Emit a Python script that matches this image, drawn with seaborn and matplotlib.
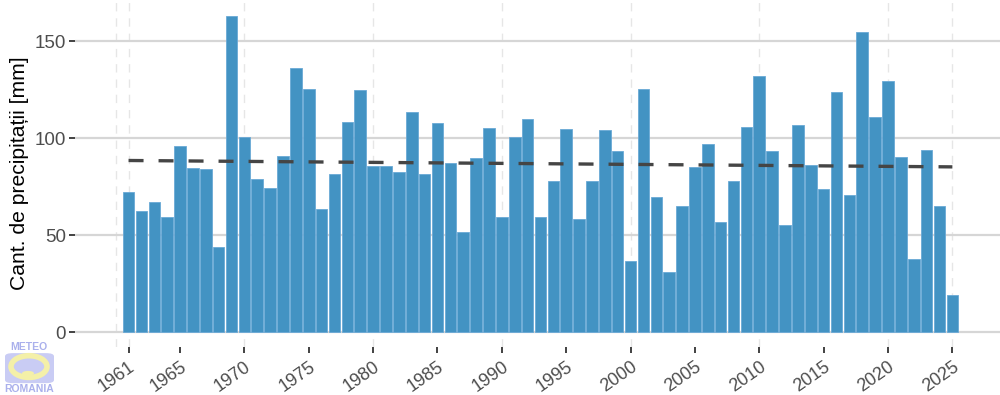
import numpy as np
import pandas as pd
import matplotlib
matplotlib.use("Agg")
import matplotlib.pyplot as plt
import matplotlib.transforms as mtransforms
import seaborn as sns
from matplotlib.patches import FancyBboxPatch, Ellipse, Circle

years = list(range(1961, 2026))
precip = [72.3, 62.7, 67.3, 59.4, 96.1, 84.6, 84.2, 43.9, 163.1, 100.6,
          79.0, 74.1, 90.9, 136.4, 125.4, 63.7, 81.6, 108.3, 124.8, 85.6,
          85.6, 82.6, 113.5, 81.6, 107.6, 87.0, 51.7, 89.7, 105.2, 59.2,
          100.4, 110.0, 59.2, 77.7, 104.7, 58.4, 78.0, 104.3, 93.2, 36.7,
          125.2, 69.7, 30.8, 64.8, 85.4, 96.8, 57.0, 78.0, 105.9, 131.9,
          93.5, 55.1, 106.8, 86.3, 73.6, 123.8, 70.6, 154.8, 111.1, 129.3,
          90.1, 37.9, 93.7, 64.8, 19.0]
xtick_years = [1961, 1965, 1970, 1975, 1980, 1985, 1990, 1995, 2000,
               2005, 2010, 2015, 2020, 2025]
ytick_vals = [0, 50, 100, 150]
vgrid_years = [1960, 1961, 1970, 1980, 1990, 2000, 2010, 2020, 2025]
ylabel = "Cant. de precipitații [mm]"

df = pd.DataFrame({"an": years, "pp": precip})

sns.set_theme(style="white")
plt.rcParams["font.family"] = ["Liberation Sans", "DejaVu Sans"]

fig = plt.figure(figsize=(10, 3.95), dpi=100)
ax = fig.add_axes([0.075, 0.122, 0.925, 0.878])

for yv in vgrid_years:
    ax.axvline(yv, color="#e6e6e6", lw=1.0, ls=(0, (6, 5)), zorder=0)
for yv in ytick_vals:
    ax.axhline(yv, color="#d6d6d6", lw=1.6, zorder=0.5)

sns.barplot(data=df, x="an", y="pp", native_scale=True, width=0.9,
            color="#4393c3", saturation=1, edgecolor="#6aa9d6",
            linewidth=0.6, ax=ax, zorder=2)

sns.regplot(data=df, x="an", y="pp", scatter=False, ci=None, ax=ax,
            line_kws=dict(color="#454545", lw=2.4, ls=(0, (4.5, 4.5)),
                          zorder=3))

ax.set_xlim(1956.84, 2028.7)
ax.set_ylim(-7.6, 171.3)
ax.set_yticks(ytick_vals)
ax.set_yticklabels([str(v) for v in ytick_vals], fontsize=13.5, color="#4d4d4d")
ax.set_xticks(xtick_years)
ax.set_xticklabels([str(v) for v in xtick_years], fontsize=13,
                   color="#4d4d4d", rotation=35, ha="right", va="top",
                   rotation_mode="anchor")
offset = mtransforms.ScaledTranslation(4 / 100, 0, fig.dpi_scale_trans)
for lbl in ax.get_xticklabels():
    lbl.set_transform(lbl.get_transform() + offset)
ax.tick_params(axis="both", which="both", length=4.5, width=1.3,
               color="#333333", direction="out", left=True, bottom=True)
ax.tick_params(axis="y", pad=2)
ax.tick_params(axis="x", pad=3.5)
ax.set_xlabel("")
ax.set_ylabel(ylabel, fontsize=15.2, color="black", labelpad=4)
for s in ax.spines.values():
    s.set_visible(False)

# logo
logo = FancyBboxPatch((0.007, 0.032), 0.045, 0.072,
                      boxstyle="round,pad=0.002,rounding_size=0.008",
                      transform=fig.transFigure, facecolor="#c9ccf4",
                      edgecolor="none", zorder=1)
fig.patches.append(logo)
ring = Ellipse((0.029, 0.072), 0.036, 0.055, transform=fig.transFigure,
               facecolor="none", edgecolor="#f4f0a8", lw=4)
fig.patches.append(ring)
dot = Circle((0.028, 0.055), 0.006, transform=fig.transFigure,
             facecolor="#f4f0a8", edgecolor="none")
fig.patches.append(dot)
fig.text(0.029, 0.108, "METEO", ha="center", va="bottom", fontsize=7.5,
         color="#aab0ec", fontweight="bold")
fig.text(0.029, 0.002, "ROMANIA", ha="center", va="bottom", fontsize=7.5,
         color="#aab0ec", fontweight="bold")

fig.savefig("out.png", dpi=100)
